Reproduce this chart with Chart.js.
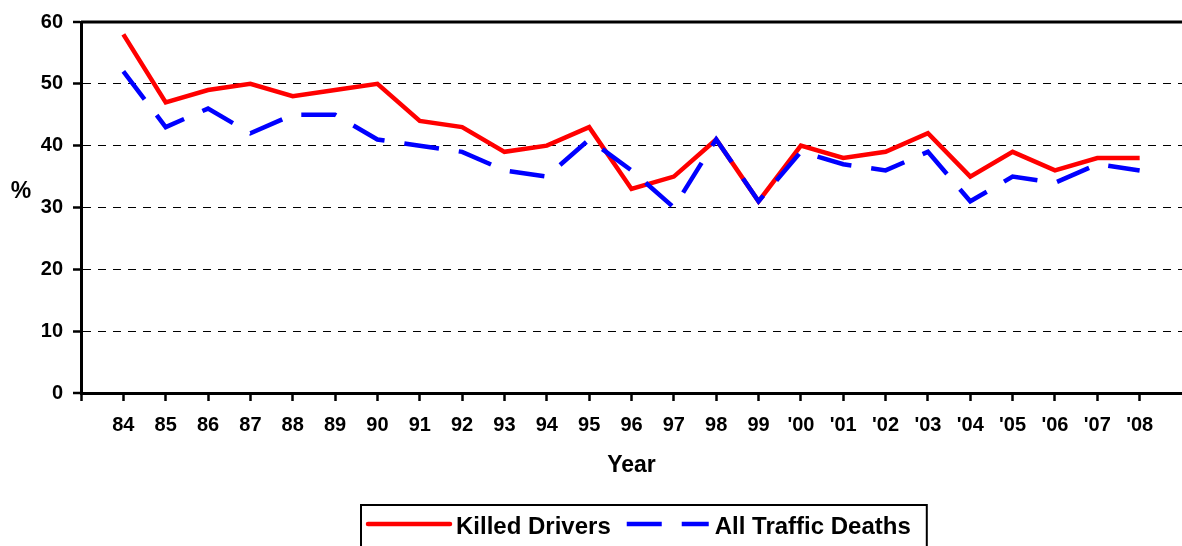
<!DOCTYPE html>
<html>
<head>
<meta charset="utf-8">
<script src="https://cdn.jsdelivr.net/npm/chart.js@4.4.1/dist/chart.umd.min.js"></script>
<style>
  html, body { margin: 0; padding: 0; background: #ffffff; }
  #wrap { width: 1182px; height: 546px; }
</style>
</head>
<body>
<div id="wrap"><canvas id="c" width="1182" height="546"></canvas></div>
<script>
const years = ['84','85','86','87','88','89','90','91','92','93','94','95','96','97','98','99',"'00","'01","'02","'03","'04","'05","'06","'07","'08"];
const killedDrivers = [58,47,49,50,48,49,50,44,43,39,40,43,33,35,41,31,40,38,39,42,35,39,36,38,38];
const allTrafficDeaths = [52,43,46,42,45,45,41,40,39,36,35,41,36,30,41,31,39,37,36,39,31,35,34,37,36];
const yTickValues = [0,10,20,30,40,50,60];
const seriesNames = ['Killed Drivers', 'All Traffic Deaths'];
const xTitle = 'Year';
const yTitle = '%';

const FONT = '"Liberation Sans", Arial, Helvetica, sans-serif';

const toPoints = arr => arr.map((v, i) => ({ x: i, y: v }));

const decor = {
  id: 'decor',
  afterDraw(chart) {
    const ctx = chart.ctx;
    const ca = chart.chartArea;
    ctx.save();
    // top border of plot area
    ctx.strokeStyle = '#000';
    ctx.lineWidth = 3;
    ctx.beginPath();
    ctx.moveTo(ca.left, ca.top);
    ctx.lineTo(ca.right, ca.top);
    ctx.stroke();

    // horizontal "%" axis title
    ctx.fillStyle = '#000';
    ctx.font = 'bold 23px ' + FONT;
    ctx.textAlign = 'center';
    ctx.textBaseline = 'middle';
    ctx.fillText(yTitle, 21, ca.top + (ca.bottom - ca.top) * 0.4585);

    // boxed legend
    ctx.font = 'bold 24px ' + FONT;
    ctx.textAlign = 'left';
    ctx.textBaseline = 'alphabetic';
    const left = 361, top = 505, lineY = 524, textBase = 534;
    const sample = 82, gap = 6, itemGap = 16;
    let x = left + 7;
    chart.data.datasets.forEach(ds => {
      ctx.beginPath();
      ctx.strokeStyle = ds.borderColor;
      ctx.lineWidth = ds.borderWidth;
      ctx.lineCap = ds.borderDash && ds.borderDash.length ? 'butt' : 'round';
      ctx.setLineDash(ds.borderDash || []);
      ctx.moveTo(x, lineY);
      ctx.lineTo(x + sample, lineY);
      ctx.stroke();
      ctx.setLineDash([]);
      ctx.lineCap = 'butt';
      x += sample + gap;
      ctx.fillStyle = '#000';
      ctx.fillText(ds.label, x, textBase);
      x += ctx.measureText(ds.label).width + itemGap;
    });
    const right = x - itemGap + 16;
    ctx.strokeStyle = '#000';
    ctx.lineWidth = 2;
    ctx.strokeRect(left, top, right - left, 80);
    ctx.restore();
  }
};

new Chart(document.getElementById('c'), {
  type: 'line',
  data: {
    datasets: [
      {
        label: seriesNames[0],
        data: toPoints(killedDrivers),
        borderColor: '#FF0000',
        backgroundColor: '#FF0000',
        borderWidth: 4.5,
        pointRadius: 0,
        tension: 0,
        fill: false,
        order: 1
      },
      {
        label: seriesNames[1],
        data: toPoints(allTrafficDeaths),
        borderColor: '#0000FF',
        backgroundColor: '#0000FF',
        borderWidth: 4.5,
        borderDash: [35, 20],
        pointRadius: 0,
        tension: 0,
        fill: false,
        order: 0
      }
    ]
  },
  options: {
    responsive: false,
    animation: false,
    devicePixelRatio: 1,
    layout: { padding: { top: 19, left: 0, right: 0, bottom: 0 } },
    plugins: {
      legend: { display: false },
      tooltip: { enabled: false }
    },
    scales: {
      x: {
        type: 'linear',
        min: -1,
        max: years.length,
        afterBuildTicks: (scale) => {
          const t = [];
          for (let i = -1; i < years.length; i++) t.push({ value: i });
          scale.ticks = t;
        },
        afterFit: (scale) => { scale.height = 153; },
        ticks: {
          autoSkip: false,
          maxRotation: 0,
          padding: 12,
          color: '#000',
          font: { family: FONT, size: 20, weight: 'bold' },
          callback: (v) => (v >= 0 && v < years.length) ? years[v] : ''
        },
        grid: {
          drawOnChartArea: false,
          drawTicks: true,
          tickLength: 8,
          tickWidth: 2.5,
          tickColor: '#000',
          color: '#000'
        },
        border: { display: true, color: '#000', width: 3 },
        title: {
          display: true,
          text: xTitle,
          color: '#000',
          font: { family: FONT, size: 23, weight: 'bold' },
          padding: { top: 0, bottom: 67 }
        }
      },
      y: {
        min: 0,
        max: 60,
        afterBuildTicks: (scale) => { scale.ticks = yTickValues.map(v => ({ value: v })); },
        afterFit: (scale) => { scale.width = 81; },
        ticks: {
          padding: 10,
          color: '#000',
          font: { family: FONT, size: 20, weight: 'bold' }
        },
        grid: {
          color: '#000',
          lineWidth: (ctx) => (ctx.tick && (ctx.tick.value === 0 || ctx.tick.value === 60)) ? 0 : 1,
          drawTicks: true,
          tickLength: 8,
          tickWidth: 2.5,
          tickColor: '#000'
        },
        border: { display: true, color: '#000', width: 3, dash: [8, 7] }
      }
    }
  },
  plugins: [decor]
});
</script>
</body>
</html>
